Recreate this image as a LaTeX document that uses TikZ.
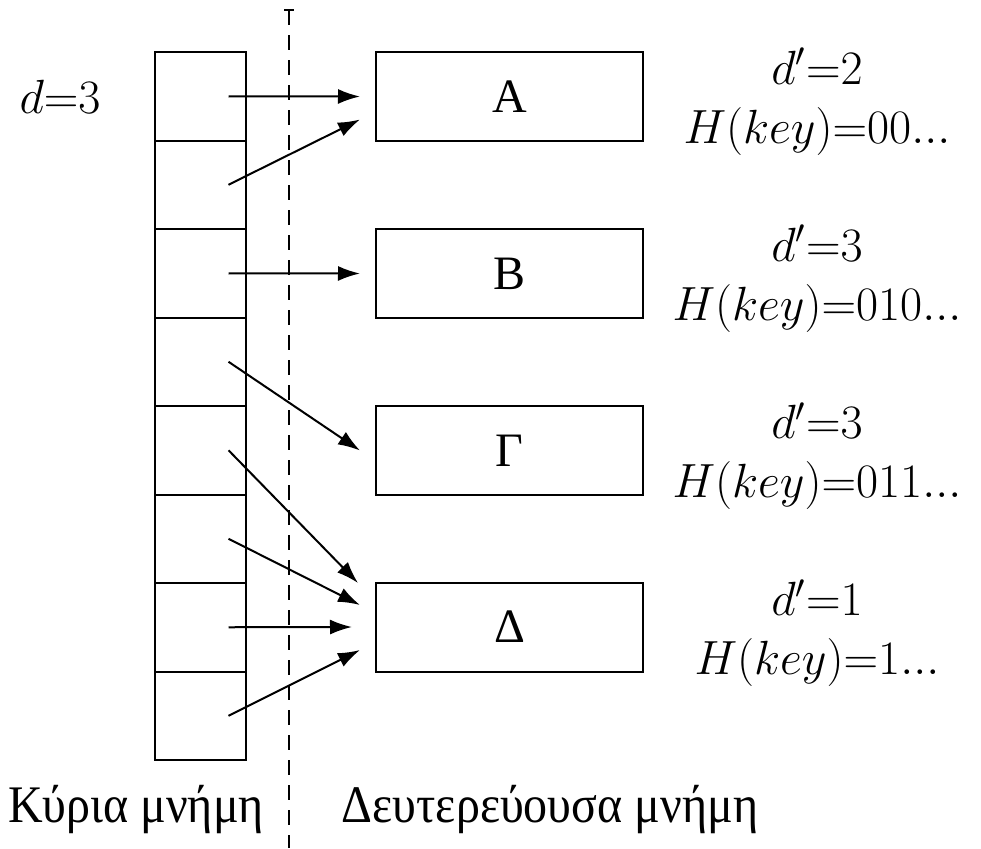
\RequirePackage{fix-cm}
\documentclass[tikz,border=0pt]{standalone}
\usepackage{graphicx}
\usepackage[no-math]{fontspec}
\setmainfont{Liberation Serif}
\usetikzlibrary{arrows.meta}
\newcommand{\tallx}[1]{\scalebox{1}[1.1]{#1}}
\begin{document}
\begin{tikzpicture}[x=0.5pt,y=-0.5pt, line width=1pt,
 cell/.style={draw, minimum width=45.5pt, minimum height=44.25pt, inner sep=0pt, outer sep=0pt},
 block/.style={draw, minimum width=133.5pt, minimum height=44.5pt, inner sep=0pt, outer sep=0pt, font=\fontsize{24}{28}\selectfont},
 lbl/.style={align=center, inner sep=0pt, font=\fontsize{24}{29.5}\selectfont},
 txt/.style={inner sep=0pt, font=\fontsize{24}{28}\selectfont},
 ptr/.style={-{Latex[length=11pt,width=7.5pt]}},
 sep/.style={dash pattern=on 7.5pt off 5pt},
 ]
\useasboundingbox (0,0) rectangle (981,848);
\foreach \i in {1,...,8} \node[cell] (c\i) at (200.5, {52+88.5*(\i-0.5)}) {};
\node[block] (A) at (509.5,96.5) {A};
\node[block] (B) at (509.5,273.5) {B};
\node[block] (G) at (509.5,450.5) {Γ};
\node[block] (D) at (509.5,627) {Δ};
\node[lbl] (lA) at (817,101.5) {$d'{=}2$\\$H(key){=}00...$};
\node[lbl] (lB) at (817,278.5) {$d'{=}3$\\$H(key){=}010...$};
\node[lbl] (lG) at (817,456) {$d'{=}3$\\$H(key){=}011...$};
\node[lbl] (lD) at (817,633) {$d'{=}1$\\$H(key){=}1...$};
\node[txt] (d) at (60,97) {$d{=}3$};
\node[txt, anchor=base] (km) at (136,822) {\tallx{Κύρια μνήμη}};
\node[txt, anchor=base] (dm) at (550,822) {\tallx{Δευτερεύουσα μνήμη}};
\coordinate (dtop) at (289,10);
\coordinate (dbot) at (289,848);
\draw[sep] (dtop) -- (dbot);
\draw ([xshift=-2.5pt]dtop) -- ([xshift=2.5pt]dtop);
\draw[ptr] ([xshift=14pt]c1.center) -- ([xshift=-8pt]A.west);
\draw[ptr] ([xshift=14pt]c2.center) -- ([xshift=-8pt,yshift=-11.5pt]A.west);
\draw[ptr] ([xshift=14pt]c3.center) -- ([xshift=-8pt]B.west);
\draw[ptr] ([xshift=14pt]c4.center) -- ([xshift=-8pt]G.west);
\draw[ptr] ([xshift=14pt]c5.center) -- ([xshift=-9pt,yshift=22pt]D.west);
\draw[ptr] ([xshift=14pt]c6.center) -- ([xshift=-8pt,yshift=11pt]D.west);
\draw[ptr] ([xshift=14pt]c7.center) -- ([xshift=-12pt]D.west);
\draw[ptr] ([xshift=14pt]c8.center) -- ([xshift=-8pt,yshift=-11.5pt]D.west);
\end{tikzpicture}
\end{document}
